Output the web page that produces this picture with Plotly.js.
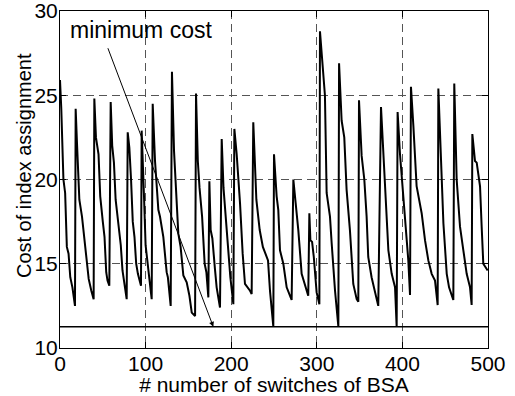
<!DOCTYPE html>
<html>
<head>
<meta charset="utf-8">
<script src="https://cdn.plot.ly/plotly-3.0.1.min.js"></script>
<style>html,body{margin:0;padding:0;background:#fff;}#chart{width:515px;height:396px;}</style>
</head>
<body>
<div id="chart"></div>
<script>
// Cost of index assignment vs. number of switches
var switches = [
  0,1.5,4,6,8,10,12,14.5,17.5,
  18.3,19.9,22.6,25.7,29.6,31.5,33.5,36.6,39.3,
  40.1,42,45,47,50,52,54,55.5,57.6,
  59.2,61,63,65,68,71,73,75,77.9,
  79.1,81,83,85,87,89,91,94.6,
  95.4,97,98,100,102,104,107.1,
  108.3,111,114.9,116.8,120.7,124.6,126,129.3,
  130.8,133.2,135.5,138.2,140.9,144.1,148,151.2,153.9,157.8,
  158.9,161,163,166,169,171,173.3,
  174.5,176,178,181,183,186.9,
  188.9,191,193,196.6,199,202.5,
  203.7,206.4,208,210.3,213.4,216.1,222,223.9,
  225.8,227.5,229.4,233.3,237,240,243,245.3,247.3,249.2,
  250,253.1,255,257,260.9,264.8,270.6,
  272.6,275.3,278.4,282.3,286.2,290,
  291.3,292.5,294.5,296.5,299.8,303,
  303.7,307.6,309.5,311.5,315.4,317.4,321.3,325.2,
  326,329,332.1,334.8,338.7,342.6,346.6,348.5,
  349.3,352.4,355.5,358.2,360.1,364,368,371.8,
  375,378.9,381.6,383.6,387.5,391.4,393.3,
  394.4,397.2,401.1,403.8,406.9,408.9,
  410,412.8,416.6,422.5,426.4,430.3,434.2,438.1,441.2,
  442,446,447.9,451.8,454.5,459.5,
  460.6,463.4,467.3,471.2,475.1,479,480.9,
  481.7,484.8,486.8,490.7,492.6,494.5,499.6
];
var cost = [
  25.9,24.2,20,19.2,16,15.6,14.2,13.6,12.5,
  24.2,22.1,18.8,17.8,16.1,14.9,14.1,13.4,12.9,
  24.8,22.5,21.5,19,17.5,16.6,14.5,14,13.7,
  24.6,22,21,18.8,17.5,16.1,14.6,13.8,12.9,
  22.8,21.9,20,17.5,16.6,15,14.4,13.7,
  22.9,21,19.2,16.1,15,14.3,12.9,
  24.5,21.1,18.2,17.8,16.6,14.5,14.2,12.5,
  26.4,21.7,19.7,16.8,16,14.3,13.9,13.1,12.1,11.9,
  25.1,21.1,19.5,17.8,15,14.5,13,
  19.9,17,16.5,14.7,13.6,12.4,
  22.4,19.5,18.2,16,14.2,12.6,
  23,21.5,20.5,18.6,15.6,13.8,13.4,13.2,
  23.4,21.5,18.8,17,16,15.6,15.2,13.4,12.1,11.26,
  21.5,19,18.2,15.8,15,13.6,12.85,
  20,18.6,17,14.4,13.8,13.1,
  18,16.4,16.3,15.4,13.3,12.6,
  28.8,26.5,25,19.2,17.8,16.2,13.4,11.26,
  26.9,23.5,22.5,19.4,17,13.8,12.9,12.75,
  24.7,21.4,20,17.8,15.4,14.2,13.4,12.5,
  24.3,20.4,18.2,15.8,14.4,13.6,11.26,
  24,21.5,18.8,17,15.2,13.15,
  25.5,23.2,19.6,18,16.4,15.2,14.4,14,12.55,
  25.4,19.6,17.4,14.4,13.6,12.85,
  25.7,20,17.2,15.8,14.4,13.6,12.55,
  22.7,21.1,21,19.6,17.2,15,14.6
];
var minX = [0, 500];
var minCost = [11.26, 11.26];
var xTicks = [0, 100, 200, 300, 400, 500];
var yTicks = [10, 15, 20, 25, 30];
var xTitle = '# number of switches of BSA';
var yTitle = 'Cost of index assignment';
var noteText = 'minimum cost';

var font = 'Liberation Sans, Arial, sans-serif';
var traces = [
  {x: switches, y: cost, type: 'scatter', mode: 'lines',
   line: {color: '#000', width: 2}, hoverinfo: 'x+y', showlegend: false},
  {x: minX, y: minCost, type: 'scatter', mode: 'lines',
   line: {color: '#000', width: 1.5}, showlegend: false}
];
var axisCommon = {
  showline: true, linecolor: '#000', linewidth: 1, mirror: 'ticks',
  ticks: 'inside', ticklen: 6, tickcolor: '#000', tickwidth: 1,
  showgrid: true, gridcolor: '#555', gridwidth: 1, griddash: '8px,5px',
  zeroline: false, ticklabeloverflow: 'allow', ticklabelstandoff: -3,
  tickfont: {family: font, size: 21, color: '#000'}
};
var layout = {
  width: 515, height: 396,
  margin: {l: 60, r: 27, t: 11, b: 48},
  paper_bgcolor: '#fff', plot_bgcolor: '#fff',
  showlegend: false,
  xaxis: Object.assign({}, axisCommon, {
    range: [0, 500], tickvals: xTicks, ticktext: xTicks.map(String),
    title: {text: xTitle, font: {family: font, size: 21, color: '#000'}, standoff: 0}
  }),
  yaxis: Object.assign({}, axisCommon, {
    range: [10, 30], tickvals: yTicks, ticktext: yTicks.map(String)
  }),
  annotations: [
    {x: -0.084, y: 0.54, xref: 'paper', yref: 'paper', text: yTitle, textangle: -90,
     showarrow: false, xanchor: 'center', yanchor: 'middle',
     font: {family: font, size: 20, color: '#000'}},
    {x: 9.3, y: 28.87, xref: 'x', yref: 'y', text: noteText, showarrow: false,
     xanchor: 'left', yanchor: 'middle', font: {family: font, size: 23, color: '#000'}},
    {x: 179.1, y: 11.26, xref: 'x', yref: 'y', ax: 55.3, ay: 27.88, axref: 'x', ayref: 'y',
     text: '', showarrow: true, arrowhead: 2, arrowsize: 1, arrowwidth: 1, arrowcolor: '#000'}
  ]
};
Plotly.newPlot('chart', traces, layout, {displayModeBar: false, staticPlot: true});
</script>
</body>
</html>
